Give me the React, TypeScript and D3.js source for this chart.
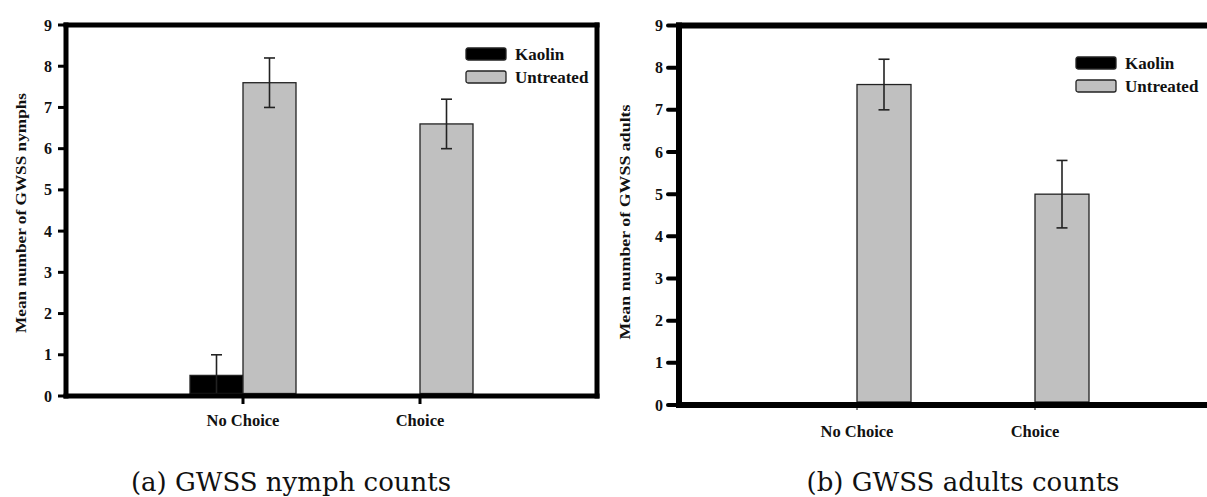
import React from "react";
import * as d3 from "d3";

const categories = ["No Choice", "Choice"];
const seriesNames = ["Kaolin", "Untreated"];
const yTicks = [0, 1, 2, 3, 4, 5, 6, 7, 8, 9];

const nymphKaolin = [0.5, 0];
const nymphKaolinErr = [0.5, 0];
const nymphUntreated = [7.6, 6.6];
const nymphUntreatedErr = [0.6, 0.6];

const adultKaolin = [0, 0];
const adultKaolinErr = [0, 0];
const adultUntreated = [7.6, 5.0];
const adultUntreatedErr = [0.6, 0.8];

const captions = ["(a) GWSS nymph counts", "(b) GWSS adults counts"];
const yLabels = ["Mean number of GWSS nymphs", "Mean number of GWSS adults"];

const W = 1207;
const H = 497;
const tickFont = "Liberation Serif, Times New Roman, Times, serif";

type PanelCfg = {
  x0: number;
  x1: number;
  y0: number;
  yTop: number;
  barW: number;
  axisW: number;
  values: number[][];
  errs: number[][];
  yLabel: string;
  yLabelX: number;
  yLabelY: number;
  yLabelLen: number;
  tickLabelX: number;
  catLabelY: number;
  legendX: number;
  legendY: number;
  caption: string;
  captionX: number;
  roundTicks: boolean;
  showRight: boolean;
};

const bold = (size: number): React.CSSProperties => ({
  fontFamily: tickFont,
  fontWeight: 700,
  fontSize: size,
});

function Panel({ c }: { c: PanelCfg }) {
  const y = d3.scaleLinear().domain([0, 9]).range([c.y0, c.yTop]);
  const x = d3
    .scalePoint<string>()
    .domain(["_l", ...categories, "_r"])
    .range([c.x0, c.x1]);
  const sub = d3.scaleBand<string>().domain(seriesNames).range([-c.barW, c.barW]).padding(0);
  const fills = ["#000000", "#c0c0c0"];
  return (
    <g>
      {seriesNames.map((s, si) =>
        categories.map((cat, ci) => {
          const v = c.values[si][ci];
          if (v <= 0) return null;
          const bx = (x(cat) as number) + (sub(s) as number);
          return (
            <rect
              key={s + cat}
              x={bx}
              y={y(v)}
              width={sub.bandwidth()}
              height={y(0) - y(v) - c.axisW / 2}
              fill={fills[si]}
              stroke="#222"
              strokeWidth={1.3}
            />
          );
        })
      )}
      {seriesNames.map((s, si) =>
        categories.map((cat, ci) => {
          const v = c.values[si][ci];
          const e = c.errs[si][ci];
          if (e <= 0) return null;
          const cx = (x(cat) as number) + (sub(s) as number) + sub.bandwidth() / 2;
          return (
            <g key={"e" + s + cat} stroke="#222" strokeWidth={1.6}>
              <line x1={cx} x2={cx} y1={y(v + e)} y2={y(v - e)} />
              <line x1={cx - 5.5} x2={cx + 5.5} y1={y(v + e)} y2={y(v + e)} />
              <line x1={cx - 5.5} x2={cx + 5.5} y1={y(v - e)} y2={y(v - e)} />
            </g>
          );
        })
      )}
      <line x1={c.x0} x2={c.x0} y1={c.yTop - c.axisW / 2} y2={c.y0 + c.axisW / 2} stroke="#000" strokeWidth={c.axisW} />
      <line x1={c.x0 - c.axisW / 2} x2={c.x1 + c.axisW / 2} y1={c.y0} y2={c.y0} stroke="#000" strokeWidth={c.axisW} />
      <line x1={c.x0 - c.axisW / 2} x2={c.x1 + c.axisW / 2} y1={c.yTop} y2={c.yTop} stroke="#000" strokeWidth={c.axisW} />
      {c.showRight && (
        <line x1={c.x1} x2={c.x1} y1={c.yTop - c.axisW / 2} y2={c.y0 + c.axisW / 2} stroke="#000" strokeWidth={c.axisW} />
      )}
      {yTicks.map((t) => (
        <g key={"t" + t}>
          <line
            x1={c.x0 - (c.roundTicks ? 11 : 8)}
            x2={c.x0}
            y1={y(t)}
            y2={y(t)}
            stroke="#000"
            strokeWidth={c.roundTicks ? 4 : 3}
            strokeLinecap={c.roundTicks ? "round" : "butt"}
          />
          <text x={c.tickLabelX} y={y(t)} dy="0.35em" textAnchor="end" style={bold(16)} fill="#111">
            {t}
          </text>
        </g>
      ))}
      {categories.map((cat) => (
        <g key={"x" + cat}>
          <line
            x1={x(cat) as number}
            x2={x(cat) as number}
            y1={c.y0}
            y2={c.y0 + (c.roundTicks ? 5 : 8)}
            stroke="#000"
            strokeWidth={c.roundTicks ? 1 : 3}
          />
          <text x={x(cat) as number} y={c.catLabelY} textAnchor="middle" style={bold(16.5)} fill="#111">
            {cat}
          </text>
        </g>
      ))}
      <text
        transform={`translate(${c.yLabelX},${c.yLabelY}) rotate(-90)`}
        textAnchor="middle"
        dy="0.35em"
        style={bold(14)}
        textLength={c.yLabelLen}
        lengthAdjust="spacingAndGlyphs"
        fill="#111"
      >
        {c.yLabel}
      </text>
      {seriesNames.map((s, i) => (
        <g key={"l" + s} transform={`translate(${c.legendX},${c.legendY + i * 23})`}>
          <rect x={0} y={0} width={40} height={12} rx={2} fill={fills[i]} stroke="#222" strokeWidth={1.3} />
          <text x={49} y={12} style={bold(17)} fill="#111">
            {s}
          </text>
        </g>
      ))}
      <text
        x={c.captionX}
        y={491}
        textAnchor="middle"
        style={{ fontFamily: "DejaVu Serif, serif", fontSize: 26 }}
        fill="#111"
      >
        {c.caption}
      </text>
    </g>
  );
}

export default function App() {
  const left: PanelCfg = {
    x0: 66,
    x1: 597,
    y0: 396,
    yTop: 25,
    barW: 53,
    axisW: 5,
    values: [nymphKaolin, nymphUntreated],
    errs: [nymphKaolinErr, nymphUntreatedErr],
    yLabel: yLabels[0],
    yLabelX: 21,
    yLabelY: 213,
    yLabelLen: 240,
    tickLabelX: 52,
    catLabelY: 426,
    legendX: 466,
    legendY: 48,
    caption: captions[0],
    captionX: 291,
    roundTicks: false,
    showRight: true,
  };
  const right: PanelCfg = {
    x0: 679,
    x1: 1213,
    y0: 405,
    yTop: 25.5,
    barW: 54,
    axisW: 6,
    values: [adultKaolin, adultUntreated],
    errs: [adultKaolinErr, adultUntreatedErr],
    yLabel: yLabels[1],
    yLabelX: 625,
    yLabelY: 222,
    yLabelLen: 235,
    tickLabelX: 663,
    catLabelY: 437,
    legendX: 1076,
    legendY: 57,
    caption: captions[1],
    captionX: 963,
    roundTicks: true,
    showRight: false,
  };
  return (
    <div style={{ position: "fixed", left: 0, top: 0 }}>
      <svg width={W} height={H} style={{ display: "block", background: "#fff" }}>
        <Panel c={left} />
        <Panel c={right} />
      </svg>
    </div>
  );
}
